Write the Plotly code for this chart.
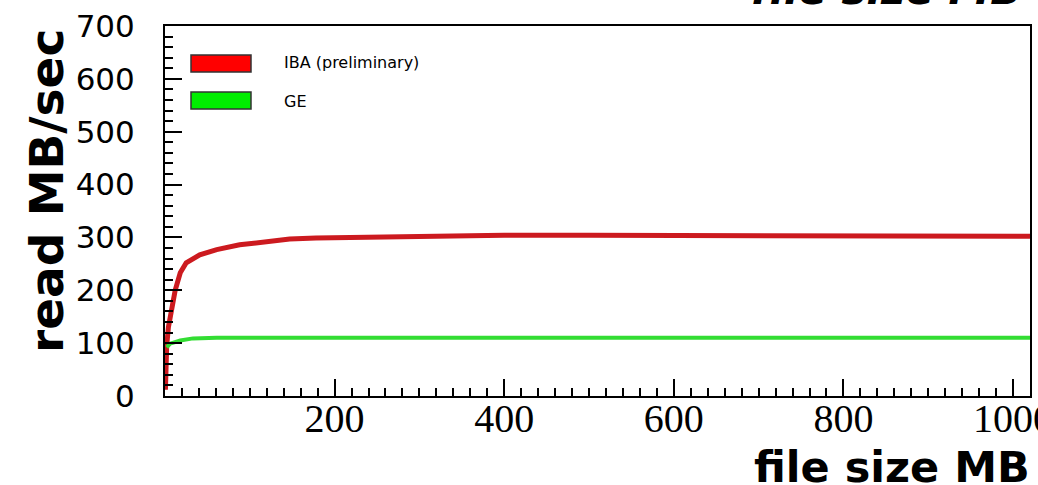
import plotly.graph_objects as go

# ---- data ----
iba_size = [0.5, 1, 2, 4, 8, 12, 18, 25, 41, 61, 88, 120, 147, 178, 218, 300,
            400, 500, 600, 700, 800, 900, 1000, 1020]
iba_rate = [12, 50, 95, 130, 162, 200, 233, 252, 267, 277, 286, 292, 297, 299,
            300, 303, 304, 304, 304, 303, 303, 302, 302, 302]

ge_size = [2, 6, 18, 33, 61, 100, 200, 400, 600, 800, 1000, 1020]
ge_rate = [92, 99, 105, 109, 110, 110, 110, 110, 110, 110, 110, 110]

x_ticks = [200, 400, 600, 800, 1000]
y_ticks = [0, 100, 200, 300, 400, 500, 600, 700]

series_names = ["IBA (preliminary)", "GE"]

# ---- figure ----
W, H = 1038, 485
L, R, T, B = 165, 8, 26, 89
pw, ph = W - L - R, H - T - B


def px_x(p):
    return (p - L) / pw


def px_y(p):
    return (H - B - p) / ph


fig = go.Figure()
fig.add_trace(go.Scatter(x=iba_size, y=iba_rate, mode="lines",
                         line=dict(color="#cc1a1f", width=5),
                         name=series_names[0], showlegend=False))
fig.add_trace(go.Scatter(x=ge_size, y=ge_rate, mode="lines",
                         line=dict(color="#33dd33", width=4),
                         name=series_names[1], showlegend=False))

axis_common = dict(showgrid=False, zeroline=False, showline=True,
                   linecolor="black", linewidth=2, mirror=True,
                   ticks="inside", tickcolor="black", tickwidth=2,
                   automargin=False)

fig.update_xaxes(range=[0, 1020], tickvals=x_ticks, ticklen=17,
                 tickfont=dict(family="Liberation Serif", size=40, color="black"),
                 minor=dict(dtick=20, tick0=0, ticks="inside", ticklen=8,
                            tickcolor="black", tickwidth=1.5),
                 ticklabelstandoff=-14, ticklabeloverflow="allow",
                 **axis_common)
fig.update_yaxes(range=[0, 700], tickvals=y_ticks, ticklen=17,
                 tickfont=dict(family="DejaVu Sans", size=31, color="black"),
                 minor=dict(dtick=20, tick0=0, ticks="inside", ticklen=8,
                            tickcolor="black", tickwidth=1.5),
                 ticklabelstandoff=22,
                 **axis_common)

shapes = [
    dict(type="rect", xref="paper", yref="paper",
         x0=px_x(191), x1=px_x(251), y0=px_y(72), y1=px_y(55),
         fillcolor="#ff0000", line=dict(color="#333333", width=1.5)),
    dict(type="rect", xref="paper", yref="paper",
         x0=px_x(191), x1=px_x(251), y0=px_y(109), y1=px_y(92),
         fillcolor="#00ee00", line=dict(color="#333333", width=1.5)),
]

legend_font = dict(family="DejaVu Sans", size=16, color="black")
annotations = [
    dict(text=series_names[0], xref="paper", yref="paper", x=px_x(282), y=px_y(62),
         xanchor="left", yanchor="middle", showarrow=False, font=legend_font),
    dict(text=series_names[1], xref="paper", yref="paper", x=px_x(282), y=px_y(101),
         xanchor="left", yanchor="middle", showarrow=False, font=legend_font),
    # x axis title, bottom right
    dict(text="<b>file size MB</b>", xref="paper", yref="paper", x=px_x(1032), y=px_y(494),
         xanchor="right", yanchor="bottom", showarrow=False,
         font=dict(family="DejaVu Sans", size=43, color="black")),
    # y axis title
    dict(text="<b>read MB/sec</b>", xref="paper", yref="paper", x=px_x(46), y=px_y(191),
         xanchor="center", yanchor="middle", textangle=-90, showarrow=False,
         font=dict(family="DejaVu Sans", size=47, color="black")),
    # clipped title at the top
    dict(text="<b><i>file size MB</i></b>", xref="paper", yref="paper",
         x=px_x(1024), y=px_y(16), xanchor="right", yanchor="bottom", showarrow=False,
         font=dict(family="DejaVu Sans", size=42, color="black")),
]

fig.update_layout(width=W, height=H,
                  margin=dict(l=L, r=R, t=T, b=B, pad=0, autoexpand=False),
                  paper_bgcolor="white", plot_bgcolor="white",
                  showlegend=False, shapes=shapes, annotations=annotations)

fig.write_html("out.html")
